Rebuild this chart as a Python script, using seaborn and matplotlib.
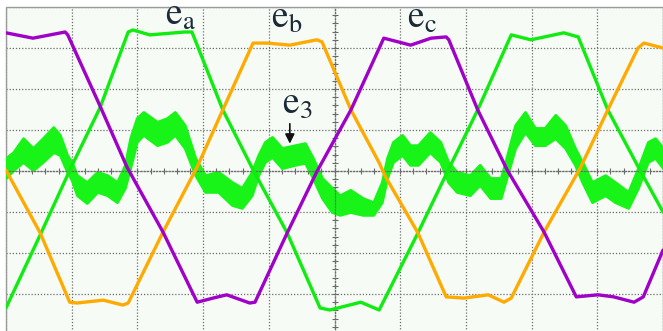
import numpy as np
import pandas as pd
import matplotlib
matplotlib.use("Agg")
import matplotlib.pyplot as plt
import seaborn as sns
from matplotlib.patches import Rectangle
from matplotlib.ticker import MultipleLocator

# ---------------- data (oscilloscope divisions) ----------------
ec_t = [0.00, 0.41, 0.90, 0.94, 1.43, 1.84, 2.39, 2.91, 3.15, 3.36, 3.71, 3.79, 4.28, 4.73,
        5.25, 5.75, 6.16, 6.47, 6.70, 6.74, 7.18, 7.63, 8.19, 8.68, 9.01, 9.25, 9.56, 9.70, 10.00]
ec_v = [3.37, 3.24, 3.39, 3.32, 1.59, 0.10, -1.49, -3.20, -3.10, -3.02, -3.22, -3.20, -1.51, -0.02,
        1.49, 3.24, 3.07, 3.24, 3.27, 3.20, 1.49, 0.02, -1.49, -3.07, -3.02, -3.07, -3.20, -3.07, -1.93]

ea_t = [0.00, 0.52, 1.00, 1.43, 1.86, 1.93, 2.19, 2.72, 2.83, 3.30, 3.77, 4.28, 4.78, 4.93,
        5.40, 5.68, 6.27, 6.73, 7.18, 7.69, 7.99, 8.49, 8.71, 9.16, 9.65, 10.00]
ea_v = [-3.34, -1.56, 0.12, 1.54, 3.39, 3.44, 3.32, 3.39, 3.39, 1.49, 0.00, -1.51, -3.34, -3.39,
        -3.20, -3.39, -1.51, 0.02, 1.49, 3.32, 3.20, 3.37, 3.27, 1.49, 0.02, -1.00]

eb_t = [0.00, 0.52, 0.97, 1.08, 1.48, 1.78, 1.86, 2.39, 2.91, 3.30, 3.76, 3.97, 4.32, 4.73, 4.81,
        5.25, 5.68, 5.78, 6.27, 6.70, 6.97, 7.34, 7.58, 7.69, 8.19, 8.74, 9.16, 9.62, 9.71, 10.00]
eb_v = [0.02, -1.51, -3.20, -3.22, -3.15, -3.27, -3.22, -1.49, 0.10, 1.49, 3.12, 3.12, 3.07, 3.20, 3.15,
        1.49, 0.20, -0.15, -1.51, -3.07, -3.10, -3.02, -3.20, -3.10, -1.49, 0.07, 1.49, 3.00, 3.12, 3.00]

e3_t = [0.00, 0.11, 0.26, 0.41, 0.56, 0.72, 0.82, 0.93, 1.00, 1.08, 1.23, 1.39, 1.54, 1.69, 1.81,
        1.89, 1.99, 2.09, 2.30, 2.45, 2.57, 2.72, 2.88, 3.03, 3.23, 3.44, 3.59, 3.74, 3.84, 3.94,
        4.05, 4.20, 4.40, 4.55, 4.67, 4.81, 4.96, 5.08, 5.24, 5.43, 5.59, 5.72, 5.80, 5.89, 6.03,
        6.15, 6.27, 6.45, 6.61, 6.73, 6.86, 7.06, 7.21, 7.37, 7.53, 7.60, 7.75, 7.90, 8.05, 8.20,
        8.36, 8.51, 8.66, 8.77, 8.92, 9.12, 9.27, 9.47, 9.62, 9.77, 9.88, 10.00]
e3_hi = [0.32, 0.46, 0.80, 0.56, 0.80, 1.07, 0.88, 0.39, 0.22, -0.10, -0.27, -0.02, -0.10, -0.27, 0.15,
         0.80, 1.29, 1.44, 1.20, 1.29, 1.44, 1.12, 0.32, -0.10, -0.02, -0.27, -0.41, -0.02, 0.39, 0.71,
         0.83, 0.56, 0.63, 0.68, 0.32, -0.17, -0.41, -0.59, -0.46, -0.66, -0.76, -0.27, 0.32, 0.71, 0.88,
         0.63, 0.63, 0.95, 0.71, 0.22, -0.02, -0.10, 0.15, -0.17, -0.17, 0.22, 1.12, 1.44, 1.05, 1.05,
         1.37, 1.12, 0.56, 0.22, -0.27, -0.10, -0.27, -0.51, 0.07, 0.71, 0.80, 0.56]
e3_lo = [-0.17, 0.02, 0.22, 0.02, 0.22, 0.46, 0.39, -0.02, -0.22, -0.59, -0.78, -0.51, -0.59, -0.76, -0.41,
         0.07, 0.71, 0.88, 0.63, 0.71, 0.88, 0.56, -0.10, -0.51, -0.51, -0.83, -0.90, -0.59, -0.10, 0.22,
         0.34, 0.07, 0.15, 0.20, -0.17, -0.66, -1.00, -1.07, -1.00, -1.07, -1.07, -0.76, -0.17, 0.22, 0.39,
         0.15, 0.15, 0.46, 0.22, -0.27, -0.51, -0.59, -0.34, -0.66, -0.66, -0.27, 0.56, 0.95, 0.63, 0.63,
         0.80, 0.56, 0.15, -0.27, -0.76, -0.59, -0.76, -0.90, -0.41, 0.22, 0.32, 0.07]

phase_names = ["ea", "eb", "ec"]
phase_colors = {"ea": "#10ec10", "eb": "#ffaa00", "ec": "#a000c8"}
e3_color = "#18f418"

labels = {"ea": r"$\mathrm{e}_{\mathrm{a}}$", "eb": r"$\mathrm{e}_{\mathrm{b}}$",
          "ec": r"$\mathrm{e}_{\mathrm{c}}$", "e3": r"$\mathrm{e}_{3}$"}

# ---------------- build table ----------------
frames = []
for name, t, v in [("ea", ea_t, ea_v), ("eb", eb_t, eb_v), ("ec", ec_t, ec_v)]:
    frames.append(pd.DataFrame({"t": t, "v": v, "phase": name}))
df = pd.concat(frames, ignore_index=True)

# ---------------- style ----------------
sns.set_theme(style="white")
plt.rcParams["font.family"] = ["Liberation Serif", "DejaVu Serif"]
plt.rcParams["mathtext.fontset"] = "stix"

fig = plt.figure(figsize=(6.63, 3.31), dpi=100)
fig.patch.set_facecolor("white")
ax = fig.add_axes([6 / 663, -4 / 331, 657 / 663, 328 / 331])
ax.set_facecolor("#f6fbf6")
ax.set_xlim(0, 10)
ax.set_ylim(-4, 4)

# grid like an oscilloscope screen
ax.xaxis.set_major_locator(MultipleLocator(1))
ax.yaxis.set_major_locator(MultipleLocator(1))
ax.xaxis.set_minor_locator(MultipleLocator(0.2))
ax.yaxis.set_minor_locator(MultipleLocator(0.2))
ax.grid(True, which="major", ls=(0, (1, 1.5)), color="#6e6e6e", lw=0.9)
ax.set_axisbelow(True)
for s in ["top", "right"]:
    ax.spines[s].set_visible(False)
ax.spines["left"].set_position(("data", 5))
ax.spines["bottom"].set_position(("data", 0))
for s in ["left", "bottom"]:
    ax.spines[s].set_linestyle((0, (1, 1.5)))
    ax.spines[s].set_color("#6e6e6e")
    ax.spines[s].set_linewidth(0.9)
ax.tick_params(which="both", bottom=True, left=True, direction="inout", length=5,
               width=0.8, colors="#6a6a6a", labelbottom=False, labelleft=False)
ax.add_patch(Rectangle((0, 0), 1, 1, transform=ax.transAxes, fill=False,
                       ec="#9a9a9a", lw=1.0, clip_on=False, zorder=1))

# e3 (noisy third-harmonic band)
ax.fill_between(e3_t, e3_lo, e3_hi, color=e3_color, lw=2.0, ec=e3_color, zorder=2)

# trapezoidal back-EMFs
sns.lineplot(data=df, x="t", y="v", hue="phase", hue_order=phase_names,
             palette=phase_colors, estimator=None, sort=False, lw=2.4,
             legend=False, ax=ax, zorder=3)
ax.set_xlabel("")
ax.set_ylabel("")

# labels
txt_kw = dict(fontsize=27, color="#1c2a38", ha="left", va="baseline", zorder=5)
ax.text(2.42, 3.56, labels["ea"], **txt_kw)
ax.text(4.04, 3.50, labels["eb"], **txt_kw)
ax.text(6.11, 3.50, labels["ec"], **txt_kw)
ax.text(4.20, 1.41, labels["e3"], **txt_kw)
ax.annotate("", xy=(4.32, 0.60), xytext=(4.32, 1.22),
            arrowprops=dict(arrowstyle="-|>", color="#111111", lw=1.2,
                            mutation_scale=14), zorder=5)

fig.savefig("out.png", dpi=100)
